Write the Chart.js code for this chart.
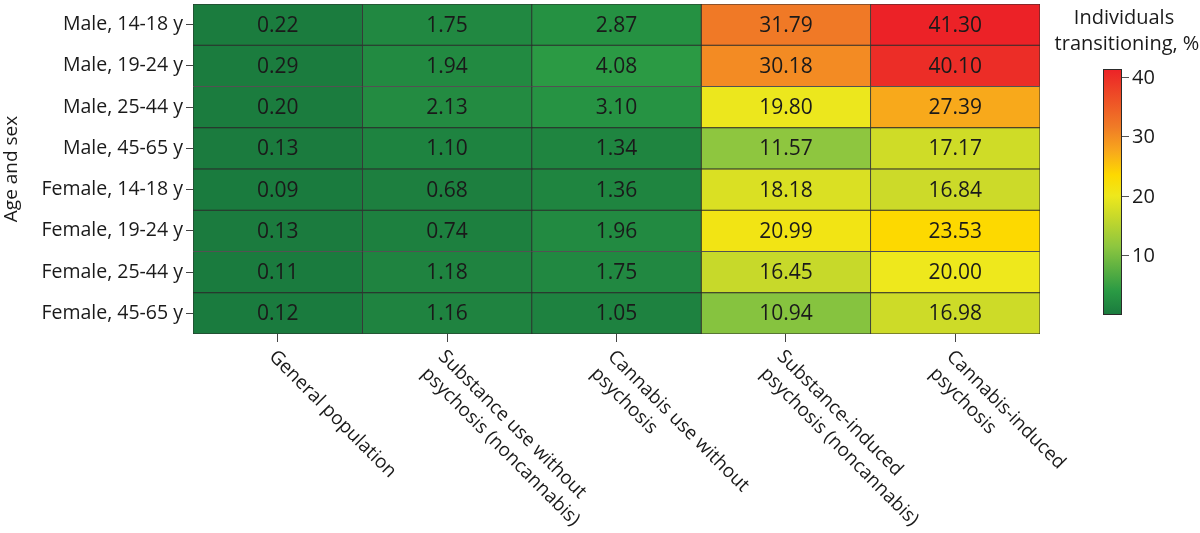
<!DOCTYPE html>
<html>
<head>
<meta charset="utf-8">
<script src="https://cdn.jsdelivr.net/npm/chart.js@4.4.1/dist/chart.umd.min.js"></script>
<style>
  html, body { margin: 0; padding: 0; background: #fff; }
  #wrap { width: 1200px; height: 533px; }
</style>
</head>
<body>
<div id="wrap"><canvas id="heatmap"></canvas></div>
<script>
// Heatmap: individuals transitioning to schizophrenia, by age/sex and group

const rowLabels = ['Male, 14-18 y', 'Male, 19-24 y', 'Male, 25-44 y', 'Male, 45-65 y',
    'Female, 14-18 y', 'Female, 19-24 y', 'Female, 25-44 y', 'Female, 45-65 y'];
const colLabels = [
    ['General population'],
    ['Substance use without', 'psychosis (noncannabis)'],
    ['Cannabis use without', 'psychosis'],
    ['Substance-induced', 'psychosis (noncannabis)'],
    ['Cannabis-induced', 'psychosis']
];

const generalPop = [0.22, 0.29, 0.20, 0.13, 0.09, 0.13, 0.11, 0.12];
const substanceUse = [1.75, 1.94, 2.13, 1.10, 0.68, 0.74, 1.18, 1.16];
const cannabisUse = [2.87, 4.08, 3.10, 1.34, 1.36, 1.96, 1.75, 1.05];
const substanceInduced = [31.79, 30.18, 19.80, 11.57, 18.18, 20.99, 16.45, 10.94];
const cannabisInduced = [41.30, 40.10, 27.39, 17.17, 16.84, 23.53, 20.00, 16.98];

const colorbarTicks = [10, 20, 30, 40];

const columns = [generalPop, substanceUse, cannabisUse, substanceInduced, cannabisInduced];
const cbMin = 0;
const cbMax = Math.max(...columns.flat());

// colour ramp (value -> rgb)
const ramp = [
    [0, [26, 122, 62]],
    [4, [42, 154, 68]],
    [11.5, [141, 198, 63]],
    [16.5, [200, 217, 42]],
    [20, [238, 232, 28]],
    [23.5, [253, 217, 0]],
    [27.5, [248, 168, 28]],
    [31.5, [240, 124, 38]],
    [41.3, [236, 34, 39]]
];

function colorFor(v) {
    if (v <= ramp[0][0]) return 'rgb(' + ramp[0][1].join(',') + ')';
    for (let i = 1; i < ramp.length; i++) {
        if (v <= ramp[i][0]) {
            const [v0, c0] = ramp[i - 1];
            const [v1, c1] = ramp[i];
            const t = (v - v0) / (v1 - v0);
            const c = c0.map((a, k) => Math.round(a + (c1[k] - a) * t));
            return 'rgb(' + c.join(',') + ')';
        }
    }
    return 'rgb(' + ramp[ramp.length - 1][1].join(',') + ')';
}

const FONT = "'Open Sans', 'Noto Sans', sans-serif";
const TEXT = '#1a1a1a';

const datasets = columns.map((vals, c) => ({
    label: colLabels[c].join(' '),
    data: rowLabels.map(() => [c, c + 1]),
    backgroundColor: vals.map(colorFor),
    borderColor: '#2b2b2b',
    borderWidth: 0.8,
    borderSkipped: false,
    barPercentage: 1,
    categoryPercentage: 1,
    grouped: false
}));

// cell values + rotated column labels + colour bar
const overlayPlugin = {
    id: 'overlay',
    afterDatasetsDraw(chart) {
        const ctx = chart.ctx;
        const x = chart.scales.x, y = chart.scales.y;
        ctx.save();
        ctx.fillStyle = TEXT;
        ctx.font = '21px ' + FONT;
        ctx.textAlign = 'center';
        ctx.textBaseline = 'middle';
        columns.forEach((vals, c) => {
            vals.forEach((v, r) => {
                ctx.fillText(v.toFixed(2), x.getPixelForValue(c + 0.5), y.getPixelForValue(r) + 1);
            });
        });
        ctx.restore();
    },
    afterDraw(chart) {
        const ctx = chart.ctx;
        const x = chart.scales.x;
        const area = chart.chartArea;

        // column labels, rotated 45 deg clockwise
        ctx.save();
        ctx.fillStyle = TEXT;
        ctx.font = '19px ' + FONT;
        ctx.textAlign = 'left';
        ctx.textBaseline = 'top';
        colLabels.forEach((lines, c) => {
            ctx.save();
            ctx.translate(x.getPixelForValue(c + 0.5) + 1, area.bottom + 13);
            ctx.rotate(Math.PI / 4);
            lines.forEach((line, j) => ctx.fillText(line, 0, j * 24));
            ctx.restore();
        });
        ctx.restore();

        // colour bar
        const bx = area.right + 63, bw = 19;
        const top = 69, bottom = 315;
        const yFor = v => bottom - (v - cbMin) / (cbMax - cbMin) * (bottom - top);
        const grad = ctx.createLinearGradient(0, bottom, 0, top);
        ramp.forEach(([v, c]) => {
            const t = Math.min(1, Math.max(0, (v - cbMin) / (cbMax - cbMin)));
            grad.addColorStop(t, 'rgb(' + c.join(',') + ')');
        });
        ctx.save();
        ctx.fillStyle = grad;
        ctx.fillRect(bx, top, bw, bottom - top);
        ctx.strokeStyle = '#2b2b2b';
        ctx.lineWidth = 1;
        ctx.strokeRect(bx + 0.5, top + 0.5, bw - 1, bottom - top - 1);

        ctx.strokeStyle = '#555';
        ctx.fillStyle = TEXT;
        ctx.font = '20px ' + FONT;
        ctx.textAlign = 'left';
        ctx.textBaseline = 'middle';
        colorbarTicks.forEach(t => {
            const ty = Math.round(yFor(t)) + 0.5;
            ctx.beginPath();
            ctx.moveTo(bx + bw, ty);
            ctx.lineTo(bx + bw + 7, ty);
            ctx.stroke();
            ctx.fillText(String(t), bx + bw + 10, ty + 1);
        });

        ctx.textAlign = 'center';
        ctx.font = '20px ' + FONT;
        ctx.fillText('Individuals', 1124, 18);
        ctx.fillText('transitioning, %', 1127, 44);
        ctx.restore();
    }
};

new Chart(document.getElementById('heatmap'), {
    type: 'bar',
    data: {
        labels: rowLabels,
        datasets: datasets
    },
    options: {
        indexAxis: 'y',
        responsive: true,
        maintainAspectRatio: false,
        animation: false,
        layout: {
            padding: { top: 4, right: 160, bottom: 0, left: 0 }
        },
        plugins: {
            legend: { display: false },
            tooltip: { enabled: false }
        },
        scales: {
            x: {
                type: 'linear',
                min: 0,
                max: columns.length,
                afterBuildTicks: scale => {
                    scale.ticks = colLabels.map((_, i) => ({ value: i + 0.5 }));
                },
                afterFit: scale => {
                    scale.height = 199;
                    scale.paddingLeft = 0;
                    scale.paddingRight = 0;
                },
                ticks: {
                    callback: () => '',
                    autoSkip: false,
                    maxRotation: 0
                },
                grid: {
                    drawOnChartArea: false,
                    tickLength: 8,
                    color: '#444'
                },
                border: { display: false }
            },
            y: {
                type: 'category',
                afterFit: scale => {
                    scale.width = 193;
                    scale.paddingTop = 0;
                    scale.paddingBottom = 0;
                },
                title: {
                    display: true,
                    text: 'Age and sex',
                    color: TEXT,
                    font: { family: FONT, size: 19 },
                    padding: { top: 0, bottom: 0 }
                },
                ticks: {
                    color: TEXT,
                    font: { family: FONT, size: 19.5 },
                    padding: 3
                },
                grid: {
                    offset: false,
                    drawOnChartArea: false,
                    tickLength: 7,
                    color: '#444'
                },
                border: { display: false }
            }
        }
    },
    plugins: [overlayPlugin]
});
</script>
</body>
</html>
